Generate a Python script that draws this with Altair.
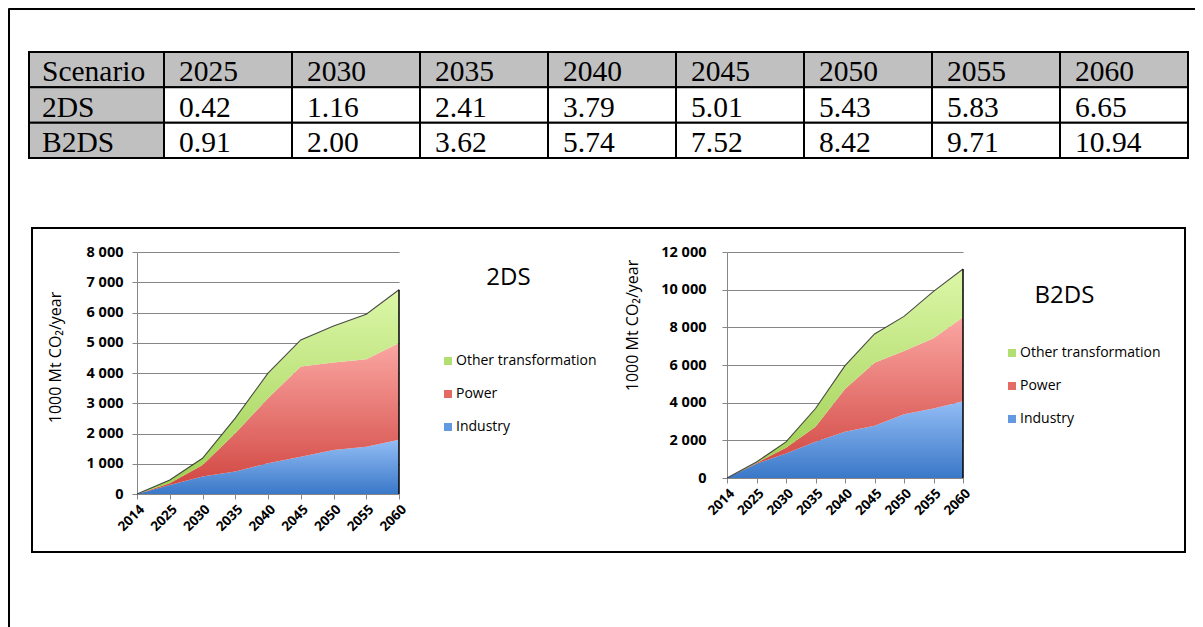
import altair as alt
import pandas as pd

# ---------------- data ----------------
table_years = ["2025", "2030", "2035", "2040", "2045", "2050", "2055", "2060"]
table_rows = ["Scenario", "2DS", "B2DS"]
table_2ds = [0.42, 1.16, 2.41, 3.79, 5.01, 5.43, 5.83, 6.65]
table_b2ds = [0.91, 2.00, 3.62, 5.74, 7.52, 8.42, 9.71, 10.94]

years = ["2014", "2025", "2030", "2035", "2040", "2045", "2050", "2055", "2060"]
series = ["Other transformation", "Power", "Industry"]

ind_2ds = [0, 300, 575, 740, 1015, 1235, 1455, 1565, 1790]
pow_2ds = [0, 55, 385, 1270, 2150, 2980, 2890, 2890, 3200]
oth_2ds = [0, 110, 220, 500, 830, 880, 1210, 1490, 1760]

ind_b2ds = [0, 760, 1300, 1920, 2450, 2770, 3390, 3690, 4080]
pow_b2ds = [0, 40, 300, 800, 2270, 3350, 3360, 3730, 4460]
oth_b2ds = [0, 50, 320, 970, 1250, 1530, 1830, 2490, 2560]

ticks_2ds = [0, 1000, 2000, 3000, 4000, 5000, 6000, 7000, 8000]
ticks_b2ds = [0, 2000, 4000, 6000, 8000, 10000, 12000]

W, H = 1187, 619
FONT = "Open Sans"

# ---------------- table ----------------
trows = []
trows.append({"row": "Scenario", "col": "Scenario", "label": "Scenario"})
for y in table_years:
    trows.append({"row": "Scenario", "col": y, "label": y})
for name, vals in (("2DS", table_2ds), ("B2DS", table_b2ds)):
    trows.append({"row": name, "col": "Scenario", "label": name})
    for y, v in zip(table_years, vals):
        trows.append({"row": name, "col": y, "label": f"{v:.2f}"})
tdf = pd.DataFrame(trows)

def table_part(df, cols, xrange, pad):
    xs = alt.Scale(type="band", domain=cols, range=xrange, paddingInner=0, paddingOuter=0)
    ys = alt.Scale(type="band", domain=table_rows, range=[44, 150], paddingInner=0, paddingOuter=0)
    rect = alt.Chart(df).mark_rect(stroke="black", strokeWidth=2).encode(
        x=alt.X("col:N", scale=xs, axis=None),
        y=alt.Y("row:N", scale=ys, axis=None),
        fill=alt.condition("datum.row == 'Scenario' || datum.col == 'Scenario'",
                           alt.value("#c0c0c0"), alt.value("white")),
    )
    text = alt.Chart(df).mark_text(align="left", baseline="alphabetic", font="Liberation Serif",
                                   fontSize=29.5, dx=pad, dy=-6, color="black").encode(
        x=alt.X("col:N", scale=xs, axis=None, bandPosition=0),
        y=alt.Y("row:N", scale=ys, axis=None, bandPosition=1),
        text="label:N",
    )
    return alt.layer(rect, text)

t_first = table_part(tdf[tdf.col == "Scenario"], ["Scenario"], [21, 156], 13)
t_years = table_part(tdf[tdf.col != "Scenario"], table_years, [156, 1180], 15)

# ---------------- area charts ----------------
grad = {
    "Other transformation": ("#dcf7a8", "#9ccd4e"),
    "Power": ("#fba6a2", "#cf423d"),
    "Industry": ("#93bdf5", "#3a78c8"),
}
leg_colors = ["#b3de72", "#e36a65", "#6399e0"]

def area_chart(ind, pw, oth, xr, yr, ymax, ticks, lpad, title_x, title_y, name, name_x, name_y):
    df = pd.DataFrame({
        "year": years * 3,
        "series": ["Industry"] * 9 + ["Power"] * 9 + ["Other transformation"] * 9,
        "value": ind + pw + oth,
    })
    base = alt.Chart(df).transform_calculate(
        order="indexof(['Industry','Power','Other transformation'], datum.series)"
    ).transform_stack(stack="value", groupby=["year"], as_=["v0", "v1"],
                      sort=[alt.SortField("order", order="ascending")])
    X = alt.X("year:O", title=name,
              scale=alt.Scale(type="point", domain=years, range=xr, padding=0, paddingOuter=0),
              axis=alt.Axis(orient="bottom", offset=-(H - yr[0]), labelAngle=315,
                            labelAlign="right", labelBaseline="top",
                            labelFont=FONT, labelFontWeight="bold", labelFontSize=13.5,
                            labelColor="black", labelPadding=3, tickSize=5,
                            tickColor="#868686", domainColor="#868686", grid=False,
                            titleFont=FONT, titleFontSize=24, titleFontWeight="normal",
                            titleColor="black", titleX=name_x, titleY=name_y,
                            titleAlign="center", titleBaseline="alphabetic"))
    Y = alt.Y("v1:Q", title="1000 Mt CO\u2082/year",
              scale=alt.Scale(domain=[0, ymax], range=yr, nice=False, zero=True),
              axis=alt.Axis(orient="left", offset=-xr[0], values=ticks,
                            labelExpr="replace(format(datum.value, ','), ',', ' ')",
                            labelFont=FONT, labelFontWeight="bold", labelFontSize=14.5,
                            labelColor="black", labelPadding=lpad, tickSize=5,
                            tickColor="#868686", domainColor="#868686",
                            grid=True, gridColor="#868686", gridWidth=1.2,
                            titleFont=FONT, titleFontSize=16, titleFontWeight="normal",
                            titleColor="black", titleX=title_x, titleY=title_y,
                            titleAngle=270, titleAlign="center", titleBaseline="middle"))
    layers = []
    for s in ["Industry", "Power", "Other transformation"]:
        top, bottom = grad[s]
        layers.append(
            base.transform_filter(f"datum.series == '{s}'").mark_area(
                color=alt.Gradient(gradient="linear", x1=0, x2=0, y1=0, y2=1,
                                   stops=[alt.GradientStop(color=top, offset=0),
                                          alt.GradientStop(color=bottom, offset=1)]),
                interpolate="linear",
            ).encode(x=X, y=Y, y2="v0:Q")
        )
    layers.append(
        base.transform_filter("datum.series == 'Other transformation'").mark_line(
            color="#222222", strokeWidth=1.1, opacity=0.8).encode(x=X, y=Y)
    )
    layers.append(
        base.transform_filter("datum.series == 'Other transformation' && datum.year == '2060'")
        .mark_rule(color="black", strokeWidth=1.5).encode(x=X, y=Y, y2=alt.datum(0))
    )
    return alt.layer(*layers)

c1 = area_chart(ind_2ds, pow_2ds, oth_2ds, [129, 391], [486, 244], 8000, ticks_2ds, 9,
                -82, 349, "2DS", 500, -210)
c2 = area_chart(ind_b2ds, pow_b2ds, oth_b2ds, [719, 955], [470, 244], 12000, ticks_b2ds, 16,
                -95, 317, "B2DS", 1056, -176)

# ---------------- legends ----------------
ldf = pd.DataFrame({"series": series})

def legend_layer(lx, ly):
    return alt.Chart(ldf).mark_square(opacity=0, size=1).encode(
        color=alt.Color("series:N",
                        scale=alt.Scale(domain=series, range=leg_colors),
                        legend=alt.Legend(orient="none", legendX=lx, legendY=ly,
                                          direction="vertical", title=None,
                                          symbolType="square", symbolSize=64,
                                          symbolOpacity=1, symbolStrokeWidth=0,
                                          labelFont=FONT, labelFontSize=14,
                                          labelColor="black", labelOffset=1,
                                          rowPadding=19, padding=0))
    )

leg1 = legend_layer(433, 346)
leg2 = legend_layer(997, 338)

# ---------------- frames ----------------
one = pd.DataFrame({"k": [0]})
frame_l = alt.Chart(one).mark_rule(color="black", strokeWidth=3).encode(
    x=alt.value(0.5), y=alt.value(0.5), y2=alt.value(H))
frame_t = alt.Chart(one).mark_rule(color="black", strokeWidth=3).encode(
    x=alt.value(0.5), x2=alt.value(W), y=alt.value(0.5))
box = alt.Chart(one).mark_rect(fillOpacity=0, stroke="black", strokeWidth=2).encode(
    x=alt.value(24), x2=alt.value(1177), y=alt.value(220), y2=alt.value(544))

chart = alt.layer(frame_l, frame_t, box, t_first, t_years, c1, c2, leg1, leg2).resolve_scale(
    x="independent", y="independent", color="independent"
).resolve_axis(x="independent", y="independent").resolve_legend(color="independent").properties(
    width=W, height=H, padding=0, autosize=alt.AutoSizeParams(type="none")
).configure_view(stroke="transparent")

chart.save("out.html", embed_options={"renderer": "svg", "actions": False})
